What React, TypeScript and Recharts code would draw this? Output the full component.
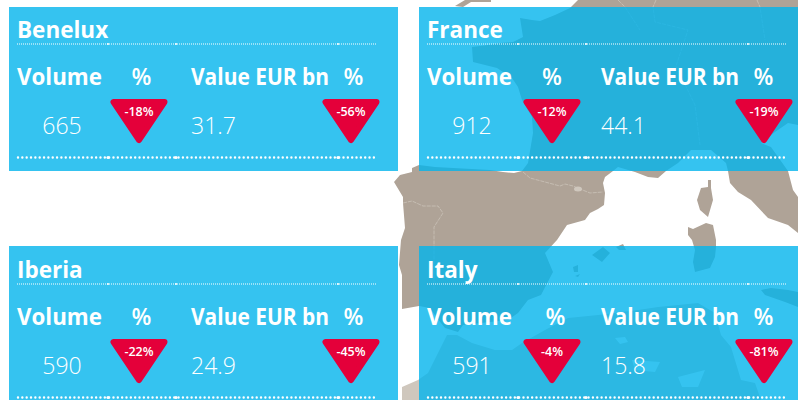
import { ComposedChart, ReferenceArea, ReferenceLine, Scatter, XAxis, YAxis } from "recharts";

const regions = ["Benelux", "France", "Iberia", "Italy"];
const volumes = ["665", "912", "590", "591"];
const volumeChanges = ["-18%", "-12%", "-22%", "-4%"];
const valuesEur = ["31.7", "44.1", "24.9", "15.8"];
const valueChanges = ["-56%", "-19%", "-45%", "-81%"];

// layout, in page pixels
const WIDTH = 798;
const HEIGHT = 400;
const panelLeft = [9, 419, 9, 419];
const panelRight = [398, 798, 398, 798];
const panelTop = [7, 7, 246, 246];
const panelBottom = [171, 171, 400, 400];
const contentTop = [7, 7, 247, 247];
const volumePctX = [132.5, 133, 132.5, 136.5];
const volumeArrowX = [130, 133, 130, 133];
const valueArrowX = [342, 345, 342, 345];
const jointX = [99, 167, 329];

const FONT = "'Open Sans', sans-serif";
const LAND = "#afa397";
const LAND_LIGHT = "#cfc7bd";

// backdrop outlines
const europe =
  "578,0 570,8 555,15 540,21 532,20 520,18 523,37 513,42 500,43 488,45 472,47 473,62 497,68 512,78 518,87 522,100 532,117 533,133 528,163 522,171 514,173 503,172 490,170 435,167 419,165 412,168 412,172 400,175 394,182 403,197 403,203 405,228 401,240 399,265 402,275 402,309 419,306 430,308 437,318 445,328 458,332 463,325 508,320 518,313 528,300 541,295 553,272 545,253 557,240 567,225 585,220 590,213 598,209 604,205 605,193 603,183 605,177 613,171 618,167 635,172 648,177 658,178 666,171 678,163 691,150 711,150 726,163 728,171 730,183 738,192 751,200 768,218 788,225 798,233 798,197 793,190 788,171 771,147 761,143 775,132 788,123 798,125 798,0";
const britain = "455,6 465,0 491,0 491,2 471,2 463,7";
const africa =
  "402,400 402,387 418,380 428,373 438,353 447,335 457,335 472,343 495,350 512,350 522,343 545,330 568,318 598,315 638,310 658,307 698,303 715,313 721,335 731,347 741,380 755,383 761,400";
const africaLakes = [
  "615,338 625,337 628,342 620,344",
  "632,360 660,362 655,372 635,370",
  "678,377 705,370 698,387 682,387",
];
const islands = [
  "708,180 711,180 711,188 713,200 708,217 700,210 697,200 701,188 708,187",
  "688,227 693,229 706,223 713,225 716,240 716,247 715,257 710,268 695,272 693,262 695,250 692,240 688,235",
  "592,255 603,247 610,253 602,262",
  "616,247 623,244 626,250 619,250",
  "573,267 578,265 578,272 574,272",
  "575,276 580,274 578,277",
  "761,290 771,288 788,290 798,292 798,307 785,302 765,295",
];
const borders = [
  "403,203 412,201 423,206 438,206 443,213 434,227 434,290",
  "523,172 530,178 560,186 565,184 573,186 580,189 590,193 603,192",
  "618,0 625,7 640,30",
  "656,0 653,7 655,22 688,30 676,66 695,105 700,145",
  "757,0 760,7 765,40",
];

const makeRows = (texts: string[], xOffset: number | number[], yOffset: number) =>
  texts.map((label, i) => ({
    x: panelLeft[i] + (Array.isArray(xOffset) ? xOffset[i] : xOffset),
    y: contentTop[i] + yOffset,
    label,
  }));

const titleRows = makeRows(regions, 8, 31);
const volumeHeadRows = makeRows(regions.map(() => "Volume"), 8, 78);
const volumePctRows = makeRows(regions.map(() => "%"), volumePctX, 78);
const valueHeadRows = makeRows(regions.map(() => "Value EUR bn"), 182, 78);
const valuePctRows = makeRows(regions.map(() => "%"), 344.5, 78);
const volumeRows = makeRows(volumes, 53, 127);
const valueRows = makeRows(valuesEur, 182, 127);
const volumeArrows = makeRows(volumeChanges, volumeArrowX, 92);
const valueArrows = makeRows(valueChanges, valueArrowX, 92);

const thinJoints = regions.flatMap((_, i) => jointX.map((dx) => ({ x: panelLeft[i] + dx, y: contentTop[i] + 37 })));
const thickJoints = regions.flatMap((_, i) => jointX.map((dx) => ({ x: panelLeft[i] + dx, y: contentTop[i] + 150.5 })));

function textShape(size: number, weight: number, anchor: "start" | "middle" = "start", fitWidth?: number) {
  return (props: any) => (
    <text
      x={props.cx}
      y={props.cy}
      fill="#fff"
      fontFamily={FONT}
      fontSize={size}
      fontWeight={weight}
      textAnchor={anchor}
      textLength={fitWidth}
      lengthAdjust={fitWidth ? "spacingAndGlyphs" : undefined}
    >
      {props.payload.label}
    </text>
  );
}

function arrowShape(props: any) {
  const { cx, cy, payload } = props;
  return (
    <g>
      <polygon
        points={`${cx - 25.5},${cy + 3} ${cx + 25.5},${cy + 3} ${cx},${cy + 41}`}
        fill="#e4003a"
        stroke="#e4003a"
        strokeWidth={6}
        strokeLinejoin="round"
      />
      <text x={cx} y={cy + 17} fill="#fff" fontFamily={FONT} fontSize={12.5} fontWeight={600} textAnchor="middle">
        {payload.label}
      </text>
    </g>
  );
}

function MapBackdrop() {
  return (
    <g>
      <polygon points={africa} fill={LAND_LIGHT} />
      {africaLakes.map((points) => (
        <polygon key={points} points={points} fill="#fff" />
      ))}
      <polygon points={europe} fill={LAND} />
      <polygon points={britain} fill={LAND} />
      {islands.map((points) => (
        <polygon key={points} points={points} fill={LAND} />
      ))}
      {borders.map((points) => (
        <polyline
          key={points}
          points={points}
          fill="none"
          stroke={LAND_LIGHT}
          strokeWidth={0.7}
          strokeDasharray="4 1"
        />
      ))}
      <ellipse cx={578} cy={189} rx={4} ry={2.5} fill={LAND_LIGHT} />
    </g>
  );
}

export default function App() {
  return (
    <div style={{ position: "absolute", left: 0, top: 0, width: WIDTH, height: HEIGHT, background: "#fff" }}>
      <ComposedChart width={WIDTH} height={HEIGHT} margin={{ top: 0, right: 0, bottom: 0, left: 0 }}>
        <XAxis type="number" dataKey="x" domain={[0, WIDTH]} hide allowDataOverflow />
        <YAxis type="number" dataKey="y" domain={[0, HEIGHT]} reversed hide allowDataOverflow />
        <MapBackdrop />
        {regions.map((name, i) => (
          <ReferenceArea
            key={name}
            x1={panelLeft[i]}
            x2={panelRight[i]}
            y1={panelTop[i]}
            y2={panelBottom[i]}
            fill="#03b4ec"
            fillOpacity={0.8}
            stroke="none"
            ifOverflow="visible"
          />
        ))}
        {regions.map((name, i) => (
          <ReferenceLine
            key={`${name}-top`}
            segment={[
              { x: panelLeft[i] + 8, y: contentTop[i] + 37 },
              { x: panelLeft[i] + 368, y: contentTop[i] + 37 },
            ]}
            stroke="#fff"
            strokeWidth={1}
            strokeDasharray="1 1"
            ifOverflow="visible"
          />
        ))}
        {regions.map((name, i) => (
          <ReferenceLine
            key={`${name}-bottom`}
            segment={[
              { x: panelLeft[i] + 9, y: contentTop[i] + 150.5 },
              { x: panelLeft[i] + 368, y: contentTop[i] + 150.5 },
            ]}
            stroke="#fff"
            strokeWidth={2.4}
            strokeLinecap="round"
            strokeDasharray="0.01 4.33"
            ifOverflow="visible"
          />
        ))}
        <Scatter data={thinJoints} isAnimationActive={false} shape={(p: any) => <circle cx={p.cx} cy={p.cy} r={1} fill="#fff" />} />
        <Scatter data={thickJoints} isAnimationActive={false} shape={(p: any) => <circle cx={p.cx} cy={p.cy} r={1.6} fill="#fff" />} />
        <Scatter data={titleRows} isAnimationActive={false} shape={textShape(22.5, 700)} />
        <Scatter data={volumeHeadRows} isAnimationActive={false} shape={textShape(24, 700, "start", 85)} />
        <Scatter data={volumePctRows} isAnimationActive={false} shape={textShape(23, 600, "middle")} />
        <Scatter data={valueHeadRows} isAnimationActive={false} shape={textShape(24, 700, "start", 138)} />
        <Scatter data={valuePctRows} isAnimationActive={false} shape={textShape(23, 600, "middle")} />
        <Scatter data={volumeRows} isAnimationActive={false} shape={textShape(23, 300, "middle")} />
        <Scatter data={valueRows} isAnimationActive={false} shape={textShape(23, 300)} />
        <Scatter data={volumeArrows} isAnimationActive={false} shape={arrowShape} />
        <Scatter data={valueArrows} isAnimationActive={false} shape={arrowShape} />
      </ComposedChart>
    </div>
  );
}
